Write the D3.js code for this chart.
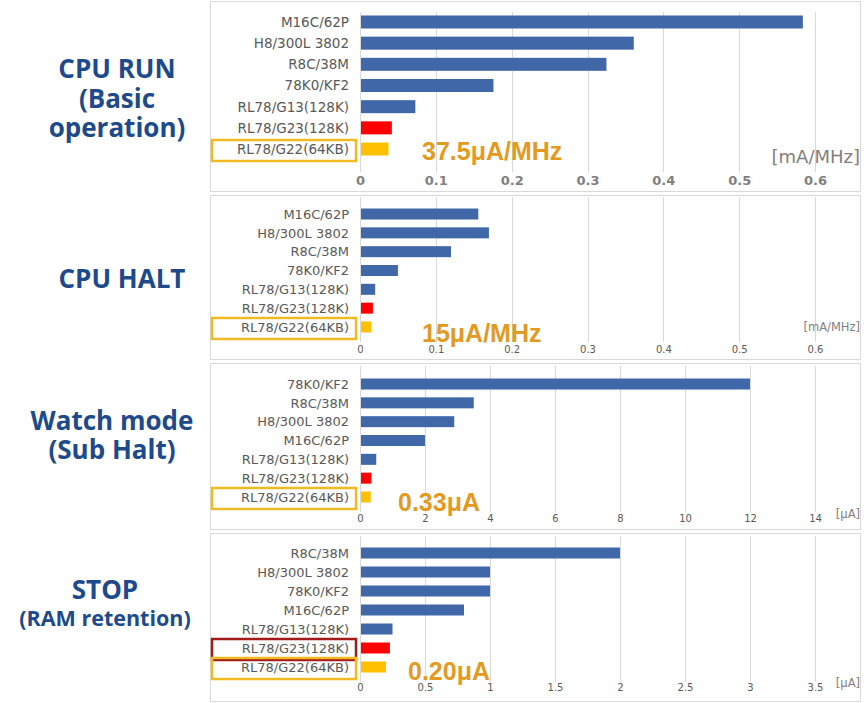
<!DOCTYPE html>
<html><head><meta charset="utf-8">
<script src="https://cdn.jsdelivr.net/npm/d3@7"></script>
<style>body{margin:0;background:#fff}</style>
</head><body>
<svg id="c" width="867" height="703"></svg>
<script>
// ---- data ----
const runCategories = ["M16C/62P","H8/300L 3802","R8C/38M","78K0/KF2","RL78/G13(128K)","RL78/G23(128K)","RL78/G22(64KB)"];
const runValues = [0.584,0.361,0.325,0.176,0.073,0.042,0.0375];
const runTicks = [0,0.1,0.2,0.3,0.4,0.5,0.6];

const haltCategories = ["M16C/62P","H8/300L 3802","R8C/38M","78K0/KF2","RL78/G13(128K)","RL78/G23(128K)","RL78/G22(64KB)"];
const haltValues = [0.156,0.170,0.120,0.050,0.020,0.017,0.015];
const haltTicks = [0,0.1,0.2,0.3,0.4,0.5,0.6];

const watchCategories = ["78K0/KF2","R8C/38M","H8/300L 3802","M16C/62P","RL78/G13(128K)","RL78/G23(128K)","RL78/G22(64KB)"];
const watchValues = [12,3.5,2.9,2.0,0.5,0.35,0.33];
const watchTicks = [0,2,4,6,8,10,12,14];

const stopCategories = ["R8C/38M","H8/300L 3802","78K0/KF2","M16C/62P","RL78/G13(128K)","RL78/G23(128K)","RL78/G22(64KB)"];
const stopValues = [2.0,1.0,1.0,0.8,0.25,0.23,0.20];
const stopTicks = [0,0.5,1,1.5,2,2.5,3,3.5];

const modeTitles = [["CPU RUN","(Basic","operation)"],["CPU HALT"],["Watch mode","(Sub Halt)"],["STOP","(RAM retention)"]];
const unitLabels = ["[mA/MHz]","[mA/MHz]","[μA]","[μA]"];
const callouts = ["37.5μA/MHz","15μA/MHz","0.33μA","0.20μA"];
const highlightYellow = ["RL78/G22(64KB)","RL78/G22(64KB)","RL78/G22(64KB)","RL78/G22(64KB)"];
const highlightRed = [null,null,null,"RL78/G23(128K)"];

// ---- layout / style ----
const BLUE="#4068A9", RED="#FF0000", YEL="#FFC000", ORANGE="#E39A1F", NAVY="#1C4A8A";
function barColor(c){ return c.indexOf("G23")>=0 ? RED : (c.indexOf("G22")>=0 ? YEL : BLUE); }

const panels = [
  {cats:runCategories, vals:runValues, ticks:runTicks, box:[210,1,860,191], band:[11.4,159.6], bw:13,
   grid:[12,172], tickY:185, tickFont:"bold 13px 'DejaVu Sans'", tickColor:"#7F7F7F", labFont:13.5,
   unit:[860,163,"18px",400], call:[422,160],
   title:{x:117, ys:[78,107.5,137], sizes:[26,26,26]}},
  {cats:haltCategories, vals:haltValues, ticks:haltTicks, box:[210,195,860,359], band:[204.6,336.4], bw:11,
   grid:[197,342], tickY:353, tickFont:"10px 'DejaVu Sans'", tickColor:"#595959", labFont:13,
   unit:[860,331,"11.5px",400], call:[422,342],
   title:{x:122, ys:[288], sizes:[26]}},
  {cats:watchCategories, vals:watchValues, ticks:watchTicks, box:[210,363,860,529], band:[374.6,506.4], bw:11,
   grid:[366,512], tickY:522, tickFont:"10px 'DejaVu Sans'", tickColor:"#595959", labFont:13,
   unit:[860,518,"11.5px",400], call:[398,511],
   title:{x:112, ys:[430,459], sizes:[26,26]}},
  {cats:stopCategories, vals:stopValues, ticks:stopTicks, box:[210,533,860,701], band:[543.5,676.5], bw:11,
   grid:[536,682], tickY:691, tickFont:"10px 'DejaVu Sans'", tickColor:"#595959", labFont:13,
   unit:[860,687,"11.5px",400], call:[408,680],
   title:{x:105, ys:[599,626], sizes:[26,21.5]}}
];

const svg = d3.select("#c");
svg.append("rect").attr("width",867).attr("height",703).attr("fill","#fff");

panels.forEach((p,i)=>{
  const g = svg.append("g");
  const [bx0,by0,bx1,by1] = p.box;
  g.append("rect").attr("x",bx0+0.5).attr("y",by0+0.5).attr("width",bx1-bx0).attr("height",by1-by0)
    .attr("fill","#fff").attr("stroke","#D9D9D9").attr("stroke-width",1);

  const x = d3.scaleLinear().domain([0, p.ticks[p.ticks.length-1]]).range([360,815]);
  const step = (p.band[1]-p.band[0])/p.cats.length;
  const pad = 1 - p.bw/step;
  const y = d3.scaleBand().domain(p.cats).range(p.band).paddingInner(pad).paddingOuter(pad/2);

  // gridlines
  g.selectAll("line.grid").data(p.ticks).enter().append("line")
    .attr("x1",d=>Math.round(x(d))+0.5).attr("x2",d=>Math.round(x(d))+0.5)
    .attr("y1",p.grid[0]).attr("y2",p.grid[1])
    .attr("stroke","#D9D9D9").attr("stroke-width",1);

  // bottom axis labels
  const axis = d3.axisBottom(x).tickValues(p.ticks).tickFormat(d=>String(d)).tickSize(0).tickPadding(0);
  const ag = g.append("g").attr("transform",`translate(0,${p.tickY})`).call(axis);
  ag.select(".domain").remove();
  ag.selectAll("text").attr("dy",0).attr("y",0).style("font",p.tickFont).attr("fill",p.tickColor);

  // bars
  g.selectAll("rect.bar").data(p.cats.map((c,k)=>({c, v:p.vals[k]}))).enter().append("rect")
    .attr("x",x(0)+1).attr("y",d=>y(d.c)).attr("height",y.bandwidth())
    .attr("width",d=>Math.max(0,x(d.v)-x(0)-1)).attr("fill",d=>barColor(d.c));

  // category labels
  g.selectAll("text.cat").data(p.cats).enter().append("text")
    .attr("x",349).attr("y",d=>y(d)+y.bandwidth()/2).attr("dy","0.36em")
    .attr("text-anchor","end").attr("fill","#595959")
    .style("font-family","'DejaVu Sans'").style("font-size",p.labFont+"px").text(d=>d);

  // highlight boxes
  const hb = [];
  if (highlightRed[i]) hb.push({c:highlightRed[i], col:"#A31A1A"});
  if (highlightYellow[i]) hb.push({c:highlightYellow[i], col:"#F0BB22"});
  g.selectAll("rect.hl").data(hb).enter().append("rect")
    .attr("x",212).attr("width",144)
    .attr("y",d=>y(d.c)+y.bandwidth()/2+1.5-10.5).attr("height",21)
    .attr("fill","none").attr("stroke",d=>d.col).attr("stroke-width",2.5);

  // unit label
  g.append("text").attr("x",p.unit[0]).attr("y",p.unit[1]).attr("text-anchor","end")
    .attr("fill","#7F7F7F").style("font-family","'DejaVu Sans'").style("font-size",p.unit[2])
    .text(unitLabels[i]);

  // callout
  g.append("text").attr("x",p.call[0]).attr("y",p.call[1]).attr("fill",ORANGE)
    .style("font-family","'Liberation Sans', Arial, sans-serif").style("font-weight","bold").style("font-size","25px")
    .text(callouts[i]);

  // left title
  const t = p.title;
  svg.selectAll(null).data(modeTitles[i]).enter().append("text")
    .attr("x",t.x).attr("y",(d,k)=>t.ys[k]).attr("text-anchor","middle").attr("fill",NAVY)
    .style("font-family","'Open Sans'").style("font-weight","bold").style("font-size",(d,k)=>t.sizes[k]+"px")
    .text(d=>d);
});
</script>
</body></html>
